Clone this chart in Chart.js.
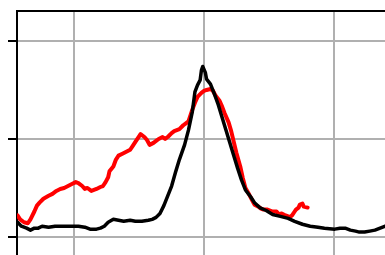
<!DOCTYPE html>
<html>
<head>
<meta charset="utf-8">
<script src="https://cdn.jsdelivr.net/npm/chart.js@4"></script>
<style>
  html, body { margin: 0; padding: 0; background: white; overflow: hidden; }
  .wrap { position: relative; width: 400px; height: 280px; }
</style>
</head>
<body>
<div class="wrap"><canvas id="c"></canvas></div>
<script>
// Two line traces (black = model, red = measured), cropped axes, no labels.

const xTicks = [-100, 0, 100];
const yTicks = [0, 1, 2];

const blackX = [-144, -141, -137, -134, -131, -128, -125, -120, -115, -110, -103, -97, -92, -88, -83, -80,
  -77, -74, -70, -66, -62, -57, -53, -48, -43, -40, -37, -34, -31, -28, -25, -22, -19, -15, -12, -9, -7,
  -5, -3, -2, -1, 1, 2, 5, 8, 11, 14, 17, 20, 23, 26, 29, 32, 36, 39, 43, 48, 53, 59, 65, 70, 76, 82, 88,
  93, 101, 105, 109, 113, 117, 120, 124, 128, 132, 136, 140, 145];
const blackY = [0.15, 0.11, 0.09, 0.07, 0.09, 0.09, 0.11, 0.10, 0.11, 0.11, 0.11, 0.11, 0.10, 0.08, 0.08, 0.09,
  0.11, 0.15, 0.18, 0.17, 0.16, 0.17, 0.16, 0.16, 0.17, 0.18, 0.20, 0.24, 0.32, 0.42, 0.52, 0.66, 0.79, 0.94, 1.09, 1.28, 1.48,
  1.55, 1.60, 1.70, 1.74, 1.68, 1.61, 1.56, 1.46, 1.35, 1.22, 1.09, 0.96, 0.83, 0.70, 0.58, 0.48, 0.41, 0.35, 0.30, 0.27, 0.23, 0.21, 0.19, 0.16, 0.13, 0.11, 0.10,
  0.09, 0.08, 0.09, 0.09, 0.07, 0.06, 0.05, 0.05, 0.06, 0.07, 0.09, 0.11, 0.16];

const redX = [-144, -142, -139, -136, -134, -131, -129, -127, -124, -120, -117, -114, -111, -108, -105, -102,
  -99, -97, -94, -92, -90, -87, -85, -83, -80, -78, -76, -74, -73, -70, -68, -66, -63, -60, -57, -55, -53,
  -50, -49, -46, -44, -42, -39, -37, -35, -32, -30, -28, -25, -23, -21, -19, -16, -14, -12, -9, -7, -5, -2,
  0, 2, 5, 7, 9, 12, 14, 16, 19, 21, 23, 25, 28, 30, 32, 35, 37, 39, 42, 44, 46, 49, 51, 53, 56, 58, 60,
  63, 65, 66, 68, 70, 71, 73, 74, 76, 77, 80];
const redY = [0.22, 0.18, 0.15, 0.14, 0.18, 0.26, 0.32, 0.35, 0.39, 0.42, 0.44, 0.47, 0.49, 0.50, 0.52, 0.54,
  0.56, 0.55, 0.52, 0.49, 0.50, 0.47, 0.48, 0.49, 0.51, 0.52, 0.56, 0.61, 0.67, 0.72, 0.79, 0.83, 0.85, 0.87, 0.89, 0.93, 0.97,
  1.03, 1.05, 1.02, 0.99, 0.94, 0.96, 0.98, 1.00, 1.02, 1.00, 1.02, 1.06, 1.08, 1.09, 1.10, 1.14, 1.16, 1.18, 1.30, 1.37, 1.43, 1.47,
  1.49, 1.50, 1.51, 1.49, 1.44, 1.39, 1.33, 1.26, 1.17, 1.08, 0.97, 0.86, 0.72, 0.60, 0.50, 0.43, 0.38, 0.33, 0.31, 0.29, 0.28, 0.28, 0.27, 0.26, 0.26, 0.23, 0.24,
  0.22, 0.21, 0.20, 0.22, 0.26, 0.28, 0.30, 0.33, 0.34, 0.31, 0.30];

function pts(xs, ys) {
  return xs.map(function (x, i) { return { x: x, y: ys[i] }; });
}

const fixTicks = function (list) {
  return function (axis) { axis.ticks = list.map(function (v) { return { value: v }; }); };
};

new Chart(document.getElementById('c'), {
  type: 'line',
  data: {
    datasets: [
      { data: pts(blackX, blackY), borderColor: '#000000', borderWidth: 3.5,
        pointRadius: 0, tension: 0, borderJoinStyle: 'round', borderCapStyle: 'round' },
      { data: pts(redX, redY), borderColor: '#ff0000', borderWidth: 4,
        pointRadius: 0, tension: 0, borderJoinStyle: 'round', borderCapStyle: 'round' }
    ]
  },
  options: {
    animation: false,
    responsive: true,
    maintainAspectRatio: false,
    layout: { padding: { left: 8, top: 11, right: 0, bottom: 0 } },
    plugins: { legend: { display: false }, tooltip: { enabled: false } },
    scales: {
      x: {
        type: 'linear', min: -144.4, max: 151.35,
        afterBuildTicks: fixTicks(xTicks),
        ticks: { display: false },
        grid: { color: '#b0b0b0', lineWidth: 2, drawTicks: false },
        border: { display: false }
      },
      x2: {
        type: 'linear', position: 'top',
        ticks: { display: false },
        grid: { display: false, drawTicks: false },
        border: { display: true, color: '#000000', width: 2 }
      },
      y: {
        min: -0.439, max: 2.306,
        afterBuildTicks: fixTicks(yTicks),
        ticks: { display: false },
        grid: { color: '#b0b0b0', lineWidth: 2, drawTicks: true, tickLength: 9,
                tickColor: '#000000', tickWidth: 2 },
        border: { display: true, color: '#000000', width: 2 }
      }
    }
  }
});
</script>
</body>
</html>
